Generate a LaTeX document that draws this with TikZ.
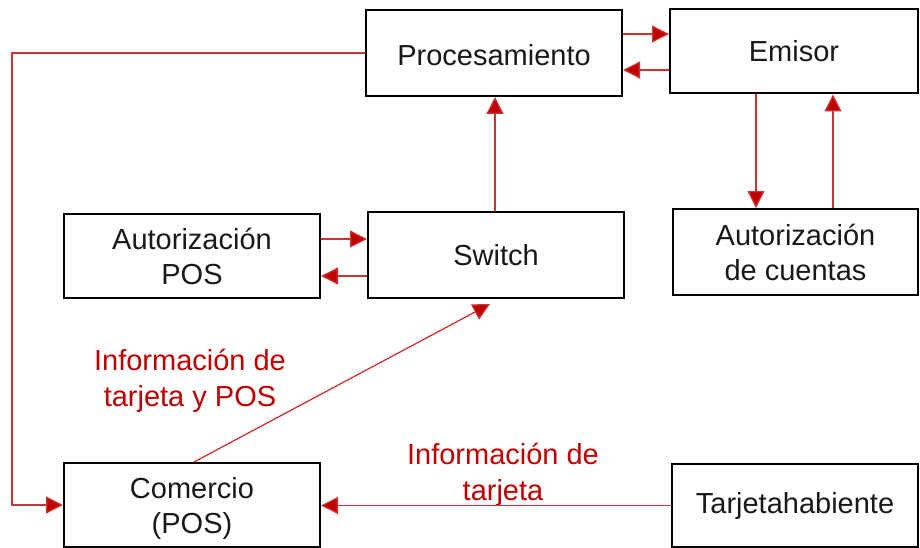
\documentclass[tikz,border=0pt]{standalone}
\usepackage{fontspec}
\setmainfont{Liberation Sans}
\usetikzlibrary{arrows.meta}
\definecolor{dred}{HTML}{C00000}
\begin{document}
\begin{tikzpicture}[x=1pt,y=-1pt,
  box/.style={draw=black, line width=2pt, rectangle, inner sep=0pt, align=center,
    font=\fontsize{29}{35}\selectfont, text=black!90},
  arr/.style={draw=dred!80, line width=1.3pt, -{Triangle[length=17pt,width=17pt,fill=dred]}},
  lab/.style={text=dred, align=center, font=\fontsize{29}{36}\selectfont}]
\useasboundingbox (0,0) rectangle (920,548);
\node[box, minimum width=256pt, minimum height=86pt] (proc) at (494,53) {\raisebox{-2pt}[\height][\depth]{Procesamiento}};
\node[box, minimum width=248pt, minimum height=84pt] (emi) at (794,51.5) {Emisor};
\node[box, minimum width=256pt, minimum height=84pt] (apos) at (192,256) {Autorización\\POS};
\node[box, minimum width=256pt, minimum height=86pt] (sw) at (496,255) {Switch};
\node[box, minimum width=245pt, minimum height=86pt] (cta) at (795.5,252) {Autorización\\de cuentas};
\node[box, minimum width=256pt, minimum height=84pt] (com) at (192,505) {\raisebox{-4pt}[\height][\depth]{\begin{tabular}{@{}c@{}}Comercio\\(POS)\end{tabular}}};
\node[box, minimum width=246pt, minimum height=83pt] (tar) at (795,505.5) {Tarjetahabiente};
\node[lab] (l1) at (190,381) {Información de\\tarjeta y POS};
\node[lab] (l2) at (503,475) {Información de\\tarjeta};
\coordinate (lft) at (12,0);
\draw[arr] (proc.east |- 0,34) -- (emi.west |- 0,34);
\draw[arr] (emi.west |- 0,70) -- (proc.east |- 0,70);
\draw[arr] (apos.east |- 0,239) -- (sw.west |- 0,239);
\draw[arr] (sw.west |- 0,276) -- (apos.east |- 0,276);
\draw[arr] (sw.north -| 495,0) -- (proc.south -| 495,0);
\draw[arr] (emi.south -| 756,0) -- (cta.north -| 756,0);
\draw[arr] (cta.north -| 833,0) -- (emi.south -| 833,0);
\draw[arr] (proc.west) -- (proc.west -| lft) -- (com.west -| lft) -- (com.west);
\draw[arr] (tar.west) -- (com.east |- tar.west);
\draw[arr] (com.north -| 194,0) -- ([yshift=-5pt]sw.south -| 490,0);
\end{tikzpicture}
\end{document}
